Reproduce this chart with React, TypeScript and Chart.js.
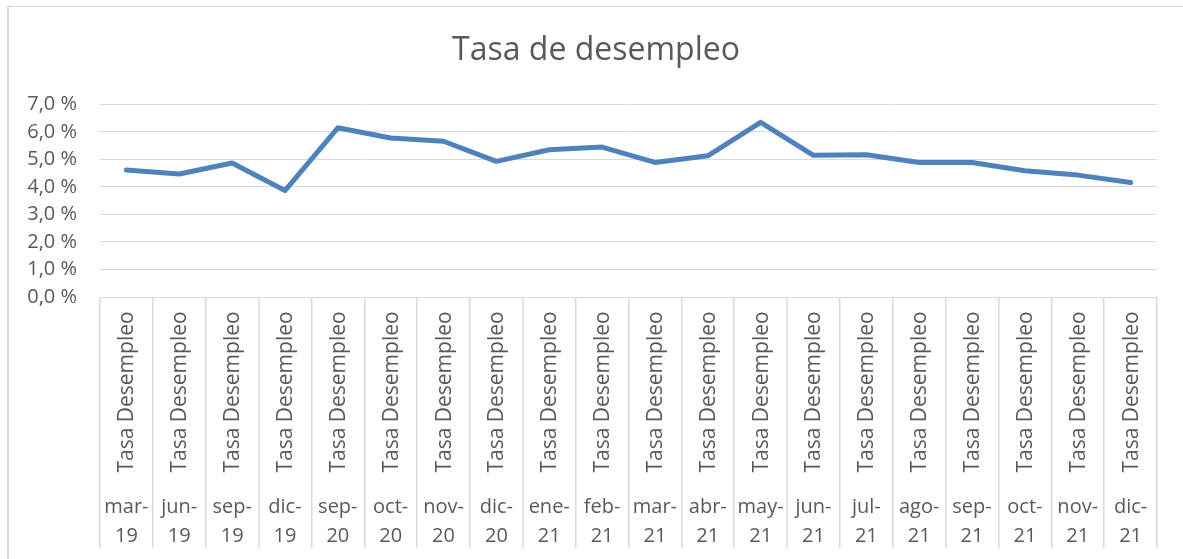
import React, { useEffect, useRef } from 'react';
import { Chart, registerables } from 'chart.js';

Chart.register(...registerables);

const titleText = 'Tasa de desempleo';
const seriesName = 'Tasa Desempleo';
const categories = [
  'mar-19', 'jun-19', 'sep-19', 'dic-19', 'sep-20', 'oct-20', 'nov-20', 'dic-20', 'ene-21', 'feb-21',
  'mar-21', 'abr-21', 'may-21', 'jun-21', 'jul-21', 'ago-21', 'sep-21', 'oct-21', 'nov-21', 'dic-21',
];
const values = [
  4.62, 4.47, 4.87, 3.87, 6.15, 5.78, 5.66, 4.93, 5.35, 5.45,
  4.89, 5.13, 6.35, 5.15, 5.17, 4.89, 4.89, 4.59, 4.43, 4.16,
];
const yTicks = [0, 1, 2, 3, 4, 5, 6, 7];

const FONT = "'Open Sans', sans-serif";
const TEXT = '#595959';
const GRID = '#d9d9d9';

const multiLevelLabels = {
  id: 'multiLevelLabels',
  afterDraw(chart: any) {
    const ctx = chart.ctx;
    const xs = chart.scales.x;
    const bottom = chart.chartArea.bottom;
    ctx.save();
    ctx.fillStyle = TEXT;
    categories.forEach((c, i) => {
      const x = xs.getPixelForValue(i);
      ctx.save();
      ctx.font = `21px ${FONT}`;
      ctx.translate(x + 1, bottom + 95);
      ctx.rotate(-Math.PI / 2);
      ctx.textAlign = 'center';
      ctx.textBaseline = 'middle';
      ctx.fillText(seriesName, 0, 0);
      ctx.restore();
      const parts = c.split('-');
      ctx.font = `20px ${FONT}`;
      ctx.textAlign = 'center';
      ctx.textBaseline = 'alphabetic';
      ctx.fillText(parts[0] + '-', x, bottom + 216);
      ctx.fillText(parts[1], x, bottom + 245);
    });
    ctx.restore();
  },
};

export default function App() {
  const ref = useRef<HTMLCanvasElement | null>(null);
  useEffect(() => {
    if (!ref.current) return;
    const chart = new Chart(ref.current, {
      type: 'line',
      data: {
        labels: categories,
        datasets: [
          {
            label: seriesName,
            data: values,
            yAxisID: 'y',
            borderColor: '#4f81bd',
            backgroundColor: '#4f81bd',
            borderWidth: 5,
            pointRadius: 0,
            tension: 0,
            borderJoinStyle: 'round',
            borderCapStyle: 'round',
            fill: false,
          },
        ],
      },
      options: {
        responsive: false,
        animation: false,
        devicePixelRatio: 1,
        layout: { padding: { left: 0, right: 0, top: 0, bottom: 0 } },
        plugins: {
          legend: { display: false },
          tooltip: { enabled: false },
          title: {
            display: true,
            text: titleText,
            color: TEXT,
            font: { family: FONT, size: 32, weight: 'normal', lineHeight: 1.2 },
            padding: { top: 25, bottom: 34 },
          },
        },
        scales: {
          x: {
            type: 'category',
            offset: true,
            grid: {
              offset: true,
              drawOnChartArea: false,
              drawTicks: true,
              tickLength: 251,
              color: GRID,
              lineWidth: 1.5,
            },
            border: { display: true, color: GRID },
            ticks: { display: false },
            afterFit(s: any) {
              s.height = 262;
            },
          },
          y: {
            position: 'left',
            min: 0,
            max: 7,
            afterBuildTicks(s: any) {
              s.ticks = yTicks.map((v) => ({ value: v }));
            },
            ticks: {
              color: TEXT,
              font: { family: FONT, size: 20 },
              padding: 23,
              callback: (v: any) => Number(v).toFixed(1).replace('.', ',') + ' %',
            },
            grid: { color: GRID, lineWidth: 1, drawTicks: false },
            border: { display: false },
            afterFit(s: any) {
              s.width = 91;
            },
          },
          yRight: {
            position: 'right',
            display: true,
            min: 0,
            max: 7,
            ticks: { display: false },
            grid: { display: false, drawOnChartArea: false, drawTicks: false },
            border: { display: false },
            afterFit(s: any) {
              s.width = 26;
            },
          },
        },
      } as any,
      plugins: [multiLevelLabels],
    });
    return () => chart.destroy();
  }, []);

  return (
    <div
      style={{
        position: 'fixed',
        left: 7,
        top: 6,
        width: 1176,
        height: 553,
        boxSizing: 'border-box',
        borderLeft: '2px solid #d9d9d9',
        borderTop: '1px solid #d9d9d9',
        background: '#fff',
      }}
    >
      <canvas ref={ref} width={1174} height={552} style={{ display: 'block' }} />
    </div>
  );
}
